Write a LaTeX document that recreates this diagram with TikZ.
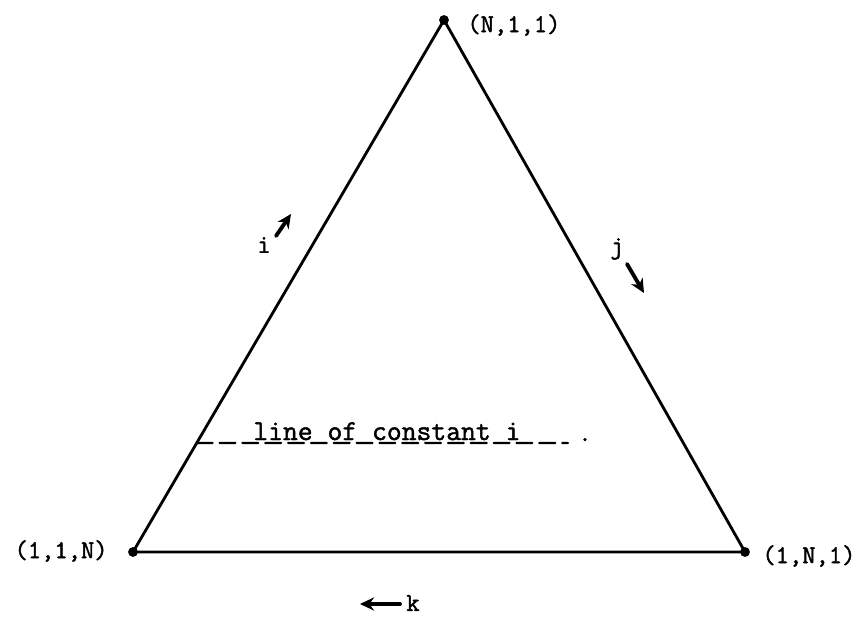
\documentclass[tikz,border=0pt]{standalone}
\usepackage{fontspec}
\newfontfamily\typer{Latin Modern Mono}[FakeBold=1.6]
\usetikzlibrary{arrows.meta,calc}

\begin{document}
\begin{tikzpicture}[x=0.02cm,y=-0.02cm,line cap=round,line join=round,
  vtx/.style={circle,fill=black,inner sep=0pt,minimum size=5.6pt},
  lbl/.style={font=\fontsize{14.7}{17}\selectfont\typer,inner sep=0pt},
  dir/.style={-{Stealth[length=8pt,width=7.5pt]},line width=2.2pt}]
\useasboundingbox (0,0) rectangle (863,618);
% corners of the triangle
\node[vtx] (top) at (444,20) {};
\node[vtx] (bl) at (133,552) {};
\node[vtx] (br) at (745,552) {};
\draw[line width=1.6pt] (top.center) -- (bl.center) -- (br.center) -- cycle;
\node[lbl,anchor=west] (toplbl) at (467,25) {(N,1,1)};
\node[lbl,anchor=east] (bllbl) at (108,551) {(1,1,N)};
\node[lbl,anchor=west] (brlbl) at (762,556) {(1,N,1)};
% index directions
\node[lbl] (ilbl) at (264,245) {i};
\coordinate (itail) at (276,236);
\coordinate (ihead) at (291,214);
\draw[dir] (itail) -- (ihead);
\node[lbl] (jlbl) at (617,249) {j};
\coordinate (jtail) at (627,264);
\coordinate (jhead) at (644,293);
\draw[dir] (jtail) -- (jhead);
\node[lbl] (klbl) at (413,603) {k};
\coordinate (ktail) at (400,604);
\coordinate (khead) at (360,604);
\draw[dir] (ktail) -- (khead);
% line of constant i
\coordinate (cl) at ($(bl.center)!0.205!(top.center)$);
\coordinate (cr) at (568,443);
\draw[line width=1.3pt,dash pattern=on 9pt off 4pt] (cl) -- (cr);
\node[font=\fontsize{16.4}{19}\selectfont\typer,inner sep=0pt,anchor=base west] (const) at (253,440) {line of constant i};
\node[lbl,anchor=base] (enddot) at (585,441) {.};
\end{tikzpicture}
\end{document}
